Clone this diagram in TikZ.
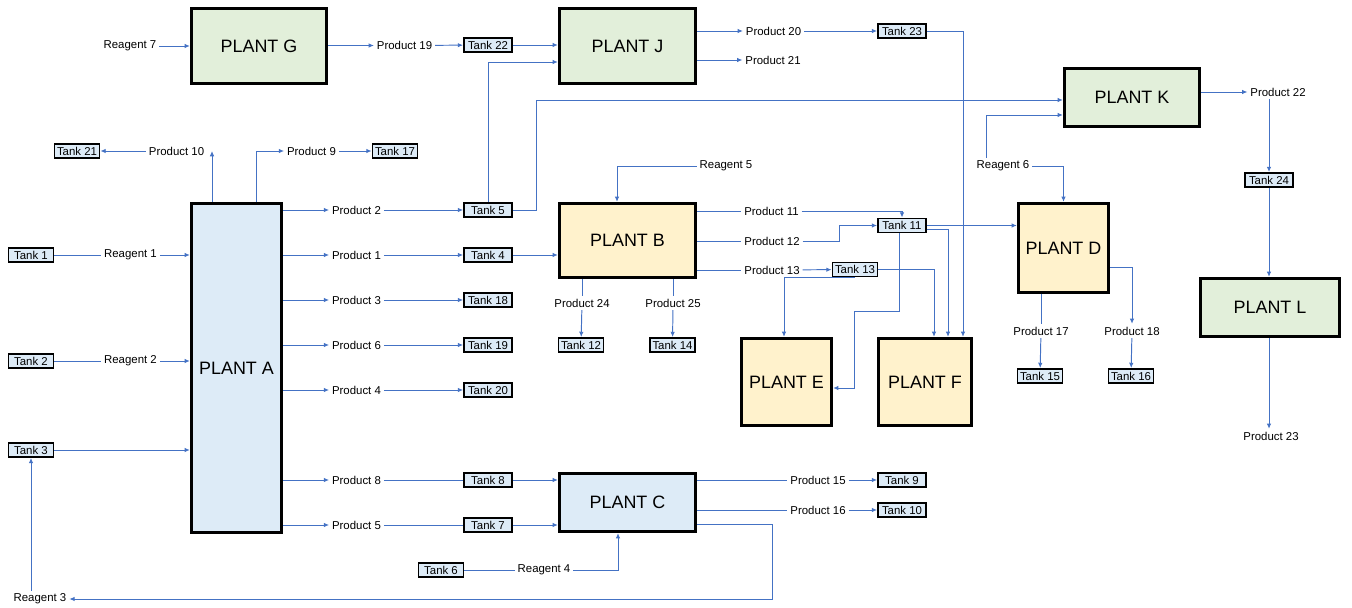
\documentclass[tikz,border=0pt]{standalone}
\usepackage{fontspec}
\setmainfont{Liberation Sans}
\usetikzlibrary{arrows.meta}
\definecolor{pipeblue}{HTML}{4472C4}
\definecolor{plantgreen}{HTML}{E2EFDA}
\definecolor{plantblue}{HTML}{DDEBF7}
\definecolor{plantyellow}{HTML}{FFF2CC}
\definecolor{tankfill}{HTML}{DDEBF7}
\begin{document}
\begin{tikzpicture}[x=0.02cm, y=-0.02cm,
  plant/.style={draw=black, line width=1.9pt, inner sep=0pt, font=\fontsize{10.2}{12}\selectfont},
  tank/.style={draw=black, line width=1.1pt, fill=tankfill, inner sep=0pt, minimum width=0.9cm, minimum height=0.28cm, font=\fontsize{6.5}{7}\selectfont},
  widetank/.style={tank, minimum width=0.96cm},
  lbl/.style={inner sep=1.5pt, font=\fontsize{6.5}{7}\selectfont},
  pipe/.style={draw=pipeblue, line width=0.55pt},
  feed/.style={pipe, -{Latex[length=3pt,width=2.6pt]}}]
  \useasboundingbox (0,0) rectangle (1352,608);
  % plants
  \node[plant, fill=plantgreen, minimum width=2.7cm, minimum height=1.5cm] (G) at (259,46) {PLANT G};
  \node[plant, fill=plantgreen, minimum width=2.72cm, minimum height=1.5cm] (J) at (627.5,46) {PLANT J};
  \node[plant, fill=plantgreen, minimum width=2.7cm, minimum height=1.16cm] (K) at (1132,97.5) {PLANT K};
  \node[plant, fill=plantgreen, minimum width=2.78cm, minimum height=1.16cm] (L) at (1270,307.5) {PLANT L};
  \node[plant, fill=plantblue, minimum width=1.8cm, minimum height=6.58cm] (A) at (236.5,368) {PLANT A};
  \node[plant, fill=plantyellow, minimum width=2.72cm, minimum height=1.48cm] (B) at (627.5,240.5) {PLANT B};
  \node[plant, fill=plantblue, minimum width=2.72cm, minimum height=1.16cm] (C) at (627.5,502.5) {PLANT C};
  \node[plant, fill=plantyellow, minimum width=1.8cm, minimum height=1.78cm] (D) at (1063.5,248) {PLANT D};
  \node[plant, fill=plantyellow, minimum width=1.8cm, minimum height=1.74cm] (E) at (786.5,382) {PLANT E};
  \node[plant, fill=plantyellow, minimum width=1.86cm, minimum height=1.74cm] (F) at (925,382) {PLANT F};
  % tanks
  \node[tank] (t1) at (31,255) {Tank 1};
  \node[tank] (t2) at (31,361) {Tank 2};
  \node[tank] (t3) at (31,450) {Tank 3};
  \node[widetank] (t4) at (488,255) {Tank 4};
  \node[widetank] (t5) at (488,210) {Tank 5};
  \node[tank] (t6) at (441,570) {Tank 6};
  \node[widetank] (t7) at (488,525) {Tank 7};
  \node[widetank] (t8) at (488,480) {Tank 8};
  \node[widetank] (t9) at (902,480) {Tank 9};
  \node[widetank] (t10) at (902,510) {Tank 10};
  \node[widetank] (t11) at (902,225.5) {Tank 11};
  \node[tank] (t12) at (581,345) {Tank 12};
  \node[tank] (t13) at (855,269.5) {Tank 13};
  \node[tank] (t14) at (672.5,345) {Tank 14};
  \node[tank] (t15) at (1040,376) {Tank 15};
  \node[tank] (t16) at (1131,376) {Tank 16};
  \node[tank] (t17) at (395,151) {Tank 17};
  \node[widetank] (t18) at (488,300) {Tank 18};
  \node[widetank] (t19) at (488,345) {Tank 19};
  \node[widetank] (t20) at (488,390) {Tank 20};
  \node[tank] (t21) at (77,151) {Tank 21};
  \node[widetank] (t22) at (488,45) {Tank 22};
  \node[widetank] (t23) at (902,31) {Tank 23};
  \node[widetank] (t24) at (1269,180) {Tank 24};
  % reagents
  \node[lbl] (r1) at (130.5,255) {Reagent 1};
  \node[lbl] (r2) at (130.5,361) {Reagent 2};
  \node[lbl] (r3) at (40,599) {Reagent 3};
  \node[lbl] (r4) at (544,570) {Reagent 4};
  \node[lbl] (r5) at (726,166) {Reagent 5};
  \node[lbl] (r6) at (1003,166) {Reagent 6};
  \node[lbl] (r7) at (130,46) {Reagent 7};
  % products
  \node[lbl] (p1) at (356.5,255) {Product 1};
  \node[lbl] (p2) at (356.5,210) {Product 2};
  \node[lbl] (p3) at (356.5,300) {Product 3};
  \node[lbl] (p4) at (356.5,390) {Product 4};
  \node[lbl] (p5) at (356.5,525) {Product 5};
  \node[lbl] (p6) at (356.5,345) {Product 6};
  \node[lbl] (p8) at (356.5,480) {Product 8};
  \node[lbl] (p9) at (311.5,151) {Product 9};
  \node[lbl] (p10) at (176.5,151) {Product 10};
  \node[lbl] (p11) at (771.5,211) {Product 11};
  \node[lbl] (p12) at (772,241) {Product 12};
  \node[lbl] (p13) at (772,270) {Product 13};
  \node[lbl] (p15) at (818,480) {Product 15};
  \node[lbl] (p16) at (818,510) {Product 16};
  \node[lbl] (p17) at (1041,331) {Product 17};
  \node[lbl] (p18) at (1132,331) {Product 18};
  \node[lbl] (p19) at (404.5,45.5) {Product 19};
  \node[lbl] (p20) at (773.5,31) {Product 20};
  \node[lbl] (p21) at (773,60) {Product 21};
  \node[lbl] (p22) at (1278,92) {Product 22};
  \node[lbl] (p23) at (1271,436) {Product 23};
  \node[lbl] (p24) at (582,303) {Product 24};
  \node[lbl] (p25) at (673,303) {Product 25};
  % plant G and J
  \draw[feed] (r7) -- (G);
  \draw[feed] (G.east |- p19) -- (p19);
  \draw[feed] (p19) -- (t22);
  \draw[feed] (t22) -- (J.west |- t22);
  \draw[feed] (J.east |- p20) -- (p20);
  \draw[feed] (p20) -- (t23);
  \draw[feed] (J.east |- p21) -- (p21);
  \draw[feed] (t23.east) -| ([xshift=0.76cm]F.north);
  \draw[feed] (t5.north) |- ([yshift=-0.32cm]J.west);
  % plant K and L
  \draw[feed] (t5.east) -- ++(24,0) |- ([yshift=-0.05cm]K.west);
  \draw[feed] ([xshift=-0.34cm]r6.north) |- ([yshift=-0.35cm]K.west);
  \draw[feed] (K.east |- p22) -- (p22);
  \draw[feed] (p22.south -| t24) -- (t24);
  \draw[feed] (t24) -- (L.north -| t24);
  \draw[feed] (L.south -| t24) -- (p23.north -| t24);
  % plant A, top
  \draw[feed] ([xshift=-0.49cm]A.north) -- ([xshift=-0.49cm]A.north |- p10.east);
  \draw[feed] (p10) -- (t21);
  \draw[feed] ([xshift=0.39cm]A.north) |- (p9);
  \draw[feed] (p9) -- (t17);
  % plant A, inputs
  \draw[pipe] (t1) -- (r1);
  \draw[feed] (r1) -- (A.west |- r1);
  \draw[pipe] (t2) -- (r2);
  \draw[feed] (r2) -- (A.west |- r2);
  \draw[feed] (t3) -- (A.west |- t3);
  \draw[feed] (r3.north -| t3) -- (t3);
  % plant A, outputs
  \draw[feed] (A.east |- p2) -- (p2);
  \draw[feed] (p2) -- (t5);
  \draw[feed] (A.east |- p1) -- (p1);
  \draw[feed] (p1) -- (t4);
  \draw[feed] (t4) -- (B.west |- t4);
  \draw[feed] (A.east |- p3) -- (p3);
  \draw[feed] (p3) -- (t18);
  \draw[feed] (A.east |- p6) -- (p6);
  \draw[feed] (p6) -- (t19);
  \draw[feed] (A.east |- p4) -- (p4);
  \draw[feed] (p4) -- (t20);
  \draw[feed] (A.east |- p8) -- (p8);
  \draw[pipe] (p8) -- (t8);
  \draw[feed] (t8) -- (C.west |- t8);
  \draw[feed] (A.east |- p5) -- (p5);
  \draw[pipe] (p5) -- (t7);
  \draw[feed] (t7) -- (C.west |- t7);
  % plant C
  \draw[pipe] (t6) -- (r4);
  \draw[feed] (r4.east) -| ([xshift=-0.19cm]C.south);
  \draw[pipe] (C.east |- p15) -- (p15);
  \draw[feed] (p15) -- (t9);
  \draw[pipe] (C.east |- p16) -- (p16);
  \draw[feed] (p16) -- (t10);
  \draw[feed] ([yshift=-0.43cm]C.east) -- ++(75,0) |- (r3.east);
  % plant B
  \draw[feed] (r5.west) -| ([xshift=-0.21cm]B.north);
  \draw[pipe] (B.south -| p24) -- (p24);
  \draw[feed] (p24) -- (t12);
  \draw[pipe] (B.south -| p25) -- (p25);
  \draw[feed] (p25) -- (t14);
  \draw[pipe] (B.east |- p11) -- (p11);
  \draw[feed] (p11.east) -| (t11.north);
  \draw[pipe] (B.east |- p12) -- (p12);
  \draw[feed] (p12.east) -- ++(37,0) |- (t11.west);
  \draw[pipe] (B.east |- p13) -- (p13);
  \draw[feed] (p13) -- (t13);
  % tanks 11 and 13 to plants D, E, F
  \draw[feed] (t11.east) -- (D.west |- t11.east);
  \draw[feed] ([yshift=-0.07cm]t11.east) -| ([xshift=0.46cm]F.north);
  \draw[feed] ([xshift=-0.06cm]t11.south) -- ++(0,78) -- ++(-45,0) |- ([yshift=-0.12cm]E.east);
  \draw[feed] (t13.east) -| ([xshift=0.18cm]F.north);
  \draw[feed] (t13.south) -| ([xshift=-0.05cm]E.north);
  % plant D
  \draw[feed] (r6.east) -| (D.north);
  \draw[pipe] (D.south -| p17) -- (p17);
  \draw[feed] (p17) -- (t15);
  \draw[feed] ([yshift=-0.38cm]D.east) -| (p18.north);
  \draw[feed] (p18) -- (t16);
\end{tikzpicture}
\end{document}
